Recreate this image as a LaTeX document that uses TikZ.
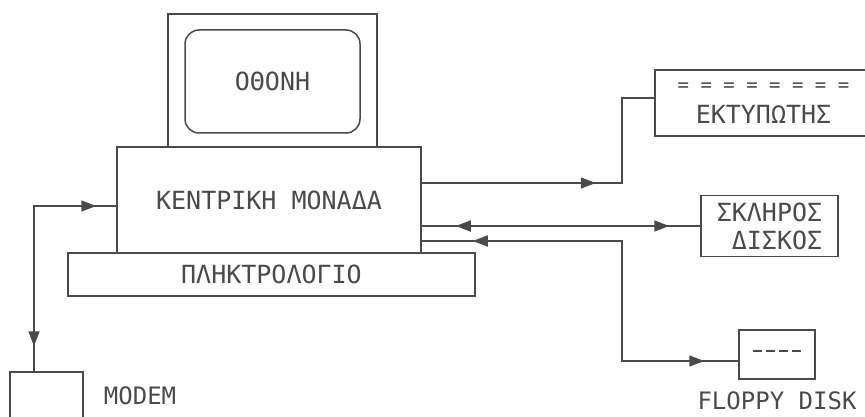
\documentclass[tikz,border=0pt]{standalone}
\usepackage{fontspec}
\usepackage{tikz}
\usetikzlibrary{arrows.meta,positioning,decorations.markings}
\newfontfamily\cadfont{DejaVu Sans Mono}
\definecolor{CADgray}{HTML}{4a4a4a}

\tikzset{
  unit/.style={draw=CADgray,line width=1.5pt,text=CADgray,inner sep=0pt,
    font=\cadfont\fontsize{25}{28}\selectfont},
  caption/.style={text=CADgray,inner sep=0pt,font=\cadfont\fontsize{24}{28}\selectfont},
  wire/.style={draw=CADgray,line width=1.5pt},
  fwd/.style={postaction={decorate,decoration={markings,
    mark=at position #1 with {\arrow{Triangle[length=15pt,width=11pt]}}}}},
  bwd/.style={postaction={decorate,decoration={markings,
    mark=at position #1 with {\arrowreversed{Triangle[length=15pt,width=11pt]}}}}}
}
\newcommand{\flopdash}{\rule[7pt]{9pt}{1.6pt}}

\begin{document}
\begin{tikzpicture}[x=1pt,y=-1pt]
  \useasboundingbox (0,0) rectangle (865,417);

  % computer
  \node[unit,minimum width=209pt,minimum height=133pt] (monitor) at (272.5,80.5) {};
  \node[unit,rounded corners=14pt,minimum width=175pt,minimum height=103pt] (screen) at (272.5,81.5) {ΟΘΟΝΗ};
  \node[unit,minimum width=304pt,minimum height=106pt] (cpu) at (269,200) {ΚΕΝΤΡΙΚΗ ΜΟΝΑΔΑ};
  \node[unit,minimum width=407pt,minimum height=43pt] (keyb) at (271.5,274.5) {ΠΛΗΚΤΡΟΛΟΓΙΟ};

  % peripherals
  \node[unit,minimum width=217pt,minimum height=66pt,align=center] (printer) at (763.5,103)
    {{\fontsize{19}{22}\selectfont = = = = = = = =}\\[4pt]ΕΚΤΥΠΩΤΗΣ};
  \node[unit,minimum width=137pt,minimum height=61pt,align=right] (hdd) at (769.5,226) {ΣΚΛΗΡΟΣ\\ΔΙΣΚΟΣ};
  \node[unit,minimum width=76pt,minimum height=49pt] (floppy) at (777,354.5)
    {\flopdash\hspace{4pt}\flopdash\hspace{4pt}\flopdash\hspace{4pt}\flopdash};
  \node[caption,below=12pt of floppy] (floppylbl) {FLOPPY DISK};
  \node[unit,minimum width=73pt,minimum height=48pt] (modem) at (46.5,396) {};
  \node[caption,right=20pt of modem] (modemlbl) {MODEM};

  % connection points
  \coordinate (bus) at (622,0);
  \coordinate (prnout) at ([yshift=17pt]cpu.east);
  \coordinate (prnin) at ([yshift=5pt]printer.west);
  \coordinate (hddout) at ([yshift=-26pt]cpu.east);
  \coordinate (flout) at ([yshift=-41pt]cpu.east);
  \coordinate (flin) at ([yshift=-6.5pt]floppy.west);
  \coordinate (modemin) at ([yshift=-6pt]cpu.west);
  \coordinate (modemtop) at ([xshift=-12.5pt]modem.north);

  \draw[wire,fwd=174pt] (prnout) -- (prnout -| bus) |- (prnin);
  \draw[wire,bwd=34pt,fwd=-31pt] (hddout) -- (hdd.west);
  \draw[wire,bwd=51pt,fwd=-34pt] (flout) -- (flout -| bus) |- (flin);
  \draw[wire,bwd=25pt,fwd=-20pt] (modemtop) |- (modemin);
\end{tikzpicture}
\end{document}
